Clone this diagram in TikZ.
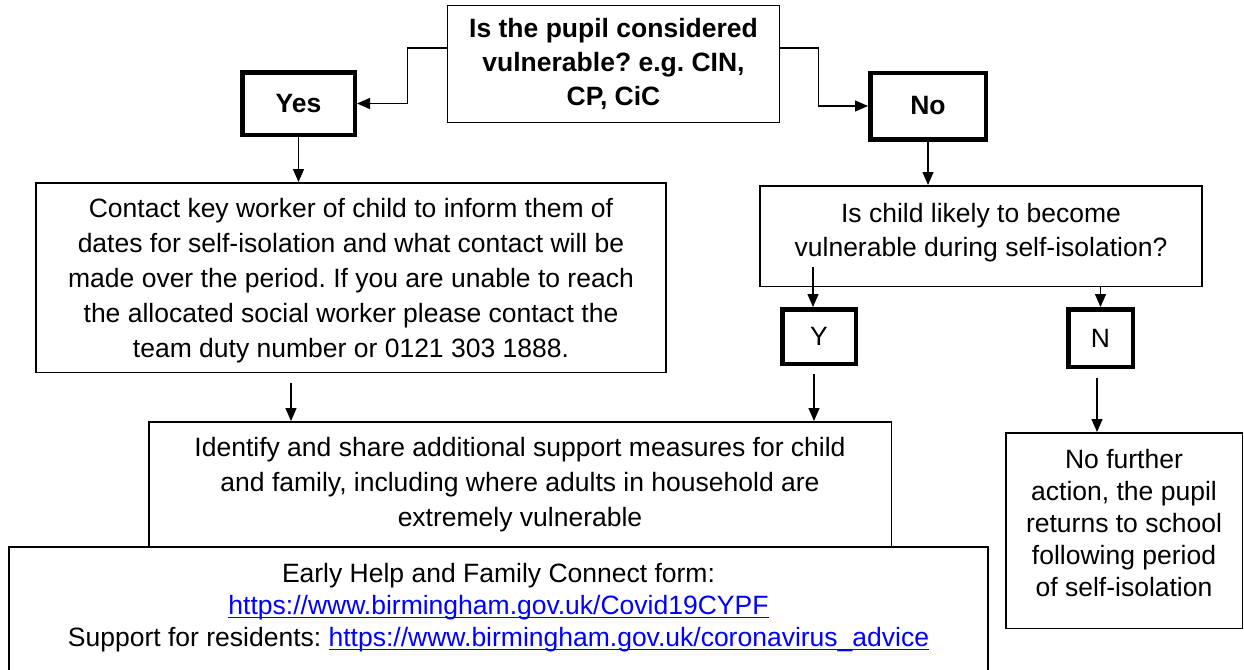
\documentclass[tikz,border=0pt]{standalone}
\usepackage{fontspec}
\setmainfont{Liberation Sans}
\usetikzlibrary{arrows.meta,calc}
\definecolor{linkblue}{RGB}{0,0,255}
\newcommand\lnk[1]{{\color{linkblue}\setbox0\hbox{#1}\rlap{\rule[-3.5pt]{\wd0}{1.6pt}}\box0}}
\frenchspacing
\tikzset{
  thinbox/.style={draw, line width=1.5pt, align=center, inner sep=0pt},
  thickbox/.style={draw, line width=4.5pt, align=center, inner sep=0pt},
  txt/.style={align=center, inner sep=0pt},
  arr/.style={line width=1.3pt, -{Triangle[length=13pt,width=11pt]}},
  fa/.style={font=\fontsize{26.5}{35}\selectfont},
  fb/.style={font=\fontsize{26.5}{34}\selectfont},
  fc/.style={font=\fontsize{26.5}{32}\selectfont},
  fbold/.style={font=\fontsize{26.5}{34}\selectfont\bfseries},
}
\begin{document}
\begin{tikzpicture}[x=1pt,y=-1pt]
\useasboundingbox (0,0) rectangle (1244,669);
\clip (0,0) rectangle (1244,669);
\fill[white] (0,0) rectangle (1244,669);

\node[thinbox, fbold, minimum width=332, minimum height=117] (q1) at (613.5,64)
  {Is the pupil considered\\vulnerable? e.g. CIN,\\CP, CiC};
\node[thickbox, fbold, minimum width=112.5, minimum height=62.5] (yes) at (298.5,103.5) {Yes};
\node[thickbox, fbold, minimum width=115.5, minimum height=66.5] (no) at (928,106) {No};

\node[thinbox, minimum width=630, minimum height=189.5] (contact) at (351,277.5) {};
\node[txt, fa] (contacttext) at ($(contact.center)+(0,3)$)
  {Contact key worker of child to inform them of\\dates for self-isolation and what contact will be\\made over the period. If you are unable to reach\\the allocated social worker please contact the\\team duty number or 0121 303 1888.};

\node[thinbox, minimum width=442, minimum height=100.5] (q2) at (981,236) {};
\node[txt, fb] (q2text) at ($(q2.center)+(0,-3)$)
  {Is child likely to become\\vulnerable during self-isolation?};

\node[thickbox, fb, minimum width=73.5, minimum height=54.5] (Y) at (819,336.5) {Y};
\node[thickbox, fb, minimum width=64.5, minimum height=57.5] (N) at (1100.5,338) {N};

\node[thinbox, fa, minimum width=742.5, minimum height=125.5] (iden) at (520,484.5)
  {Identify and share additional support measures for child\\and family, including where adults in household are\\extremely vulnerable};

\node[fill=white, fc, align=center, inner sep=0pt, minimum width=979, minimum height=122] (eh) at (498.5,608)
  {Early Help and Family Connect form:\\\lnk{https://www.birmingham.gov.uk/Covid19CYPF}\\Support for residents: \lnk{https://www.birmingham.gov.uk/coronavirus\_advice}};
\draw[line width=1.5pt] ([yshift=-20pt]eh.south west) -- (eh.north west) -- (eh.north east) -- ([yshift=-20pt]eh.south east);

\node[thinbox, minimum width=236.5, minimum height=195.5] (nf) at (1124,530.5) {};
\node[txt, fc] (nftext) at ($(nf.center)+(0,-7)$)
  {No further\\action, the pupil\\returns to school\\following period\\of self-isolation};

% connectors
\draw[arr] ([yshift=16pt]q1.west) -- ++(-39,0) |- (yes.east);
\draw[arr] ([yshift=16pt]q1.east) -- ++(38,0) |- (no.west);
\draw[arr] (yes.south) -- (yes.south |- contact.north);
\draw[arr] (no.south) -- (no.south |- q2.north);
\coordinate (cy) at ($(Y.north)+(-6,-40)$);
\draw[arr] (cy) -- (cy |- Y.north);
\draw[arr] (N.north |- q2.south) -- (N.north);
\coordinate (c1) at ($(contact.south)+(-60,10)$);
\draw[arr] (c1) -- (c1 |- iden.north);
\coordinate (c2) at ($(Y.south)+(-5,8)$);
\draw[arr] (c2) -- (c2 |- iden.north);
\coordinate (c3) at ($(N.south)+(-3.5,9)$);
\draw[arr] (c3) -- (c3 |- nf.north);
\end{tikzpicture}
\end{document}
